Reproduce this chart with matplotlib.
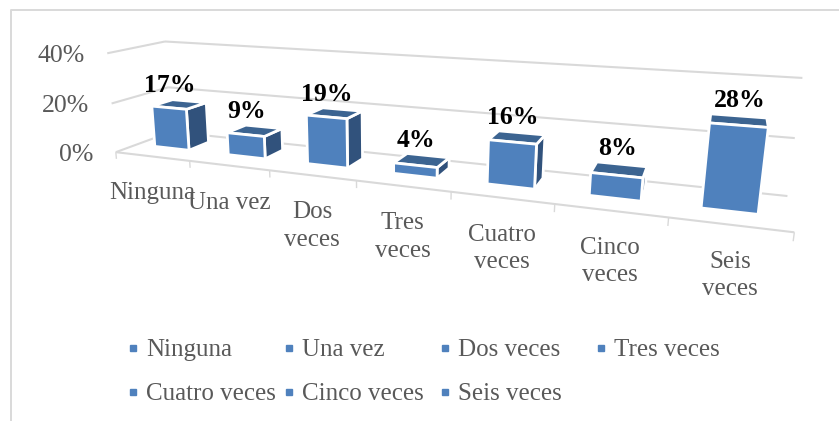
import numpy as np
import matplotlib
matplotlib.use('Agg')
import matplotlib.pyplot as plt
from matplotlib.patches import Polygon

# chart values
categories = ['Ninguna', 'Una vez', 'Dos veces', 'Tres veces',
              'Cuatro veces', 'Cinco veces', 'Seis veces']
axis_labels = ['Ninguna', 'Una vez', 'Dos\nveces', 'Tres\nveces',
               'Cuatro\nveces', 'Cinco\nveces', 'Seis\nveces']
values = [17, 9, 19, 4, 16, 8, 28]
y_ticks = [0, 20, 40]

GRID = '#d9d9d9'
TEXT = '#595959'
FRONT = '#4f81bd'
TOP = '#3c6491'
SIDE = '#31527c'
FONT = 'Liberation Serif'

# where the corners of the 3d frame sit on the page: (category, depth, percent) -> pixel
frame_world = [(0, 0, 0), (7, 0, 0), (0, 1, 0), (7, 1, 0), (0, 1, 40), (7, 1, 40),
               (0, 0, 40), (0, 0, 20), (0, 1, 20), (7, 1, 20),
               (1, 0, 0), (2, 0, 0), (3, 0, 0), (4, 0, 0), (5, 0, 0), (6, 0, 0)]
frame_page = [(118, 151), (795, 234), (168, 133), (788, 194), (168, 42), (802, 78),
              (105, 53), (110, 103), (168, 88), (795, 137),
              (191, 160), (271, 170), (357, 180), (451, 192), (554, 205), (667, 219)]


def fit_camera(world, page):
    rows = []
    for (x, d, v), (u, w) in zip(world, page):
        p = [x, d, v / 10, 1]
        rows.append(p + [0, 0, 0, 0] + [-u * c for c in p])
        rows.append([0, 0, 0, 0] + p + [-w * c for c in p])
    _, _, vt = np.linalg.svd(np.array(rows, dtype=float))
    return vt[-1].reshape(3, 4)


camera = fit_camera(frame_world, frame_page)


def project(x, d, v):
    u, w, s = camera @ np.array([x, d, v / 10, 1.0])
    return u / s, w / s


def line3d(ax, a, b, **kw):
    pa, pb = project(*a), project(*b)
    ax.plot([pa[0], pb[0]], [pa[1], pb[1]], color=GRID, solid_capstyle='butt', **kw)


def face(ax, corners, color, zorder):
    pts = [project(*c) for c in corners]
    ax.add_patch(Polygon(pts, closed=True, facecolor=color, edgecolor='white',
                         linewidth=2.0, joinstyle='miter', zorder=zorder))


fig = plt.figure(figsize=(8.39, 4.21), dpi=100)
ax = fig.add_axes([0, 0, 1, 1])
ax.set_xlim(0, 839)
ax.set_ylim(421, 0)
ax.axis('off')

# chart border
ax.plot([10.5, 10.5, 839], [421, 9.5, 9.5], color=GRID, lw=1.4, zorder=1)

# gridlines on the walls
for t in y_ticks:
    line3d(ax, (0, 0, t), (0, 1, t), lw=1.5, zorder=1)
    line3d(ax, (0, 1, t), (7, 1, t), lw=1.5, zorder=1)
    px, py = project(0, 0, t)
    ax.text(px - 22, py + 3, f'{t}%', ha='right', va='center', color=TEXT,
            fontsize=18.5, family=FONT)

# floor front edge and ticks
line3d(ax, (0, 0, 0), (7, 0, 0), lw=1.5, zorder=1)
for i in range(8):
    line3d(ax, (i, 0, 0), (i, 0, -2.8), lw=1.0, zorder=1)

# bars
bar_lo, bar_hi = 0.255, 0.73
depth_lo, depth_hi = 0.36, 0.74
for i, val in enumerate(values):
    x0, x1 = i + bar_lo, i + bar_hi
    # side face only when the camera can see it
    a = project(x1, depth_lo, 0)
    b = project(x1, depth_hi, 0)
    if b[0] > a[0]:
        face(ax, [(x1, depth_lo, 0), (x1, depth_hi, 0), (x1, depth_hi, val), (x1, depth_lo, val)],
             SIDE, 3)
    face(ax, [(x0, depth_lo, val), (x1, depth_lo, val), (x1, depth_hi, val), (x0, depth_hi, val)],
         TOP, 3)
    face(ax, [(x0, depth_lo, 0), (x1, depth_lo, 0), (x1, depth_lo, val), (x0, depth_lo, val)],
         FRONT, 4)
    lx, _ = project(i + 0.5, depth_lo, val)
    _, ly = project(i + 0.5, depth_hi, val)
    ax.text(lx, ly - 4, f'{val}%', ha='center', va='bottom', color='black',
            fontsize=18.5, fontweight='bold', family=FONT, zorder=5)

# category labels below the front edge
for i, lab in enumerate(axis_labels):
    px, py = project(i + 0.5, 0, 0)
    ax.text(px, py + 26, lab, ha='center', va='top', color=TEXT, fontsize=18,
            family=FONT, linespacing=1.33, zorder=5)

# legend, four even columns
leg_x = 133
leg_y = 348
col_w = 156
row_h = 44
for i, cat in enumerate(categories):
    row, col = divmod(i, 4)
    lx = leg_x + col * col_w
    ly = leg_y + row * row_h
    ax.plot([lx], [ly], marker='s', ms=5, color=FRONT, ls='none')
    ax.text(lx + 13, ly + 2, cat, ha='left', va='center', color=TEXT, fontsize=18, family=FONT)

fig.savefig('out.png', dpi=100)
